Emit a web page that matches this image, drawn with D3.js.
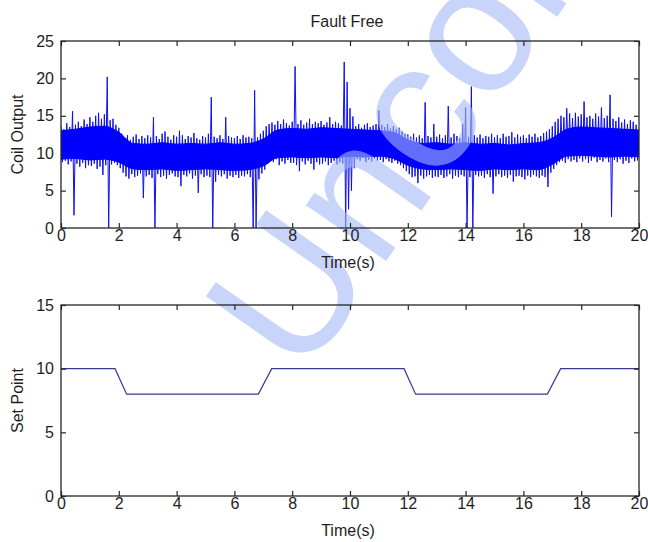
<!DOCTYPE html>
<html>
<head>
<meta charset="utf-8">
<script src="https://cdn.jsdelivr.net/npm/d3@7"></script>
<style>
  html, body { margin: 0; padding: 0; background: #fff; }
  svg { display: block; font-family: "Liberation Sans", Arial, Helvetica, sans-serif; }
</style>
</head>
<body>
<svg id="chart" width="648" height="542"></svg>
<script>
// Coil output, summarised per 0.1 s bin: highest and lowest sample in each bin
const coilBinStep = 0.1;
const coilHigh = [
  13.6, 13.2, 14.0, 13.5, 15.6, 13.8, 14.2, 13.6, 14.5, 13.9,
  14.8, 14.2, 15.0, 15.4, 14.6, 15.2, 20.2, 14.4, 14.6, 13.8,
  13.4, 12.6, 12.0, 12.4, 11.8, 12.2, 12.5, 11.9, 12.3, 12.0,
  12.4, 12.1, 14.8, 12.3, 11.9, 12.6, 12.9, 12.2, 11.8, 12.4,
  12.2, 13.0, 12.4, 11.9, 12.3, 12.1, 12.7, 12.0, 11.8, 12.3,
  12.1, 12.6, 17.5, 12.2, 12.0, 12.4, 11.9, 14.8, 12.3, 12.1,
  12.0, 12.3, 11.9, 12.4, 12.1, 12.2, 12.0, 18.4, 12.1, 12.6,
  13.0, 13.6, 13.9, 14.1, 13.8, 14.3, 13.9, 14.5, 14.0, 13.7,
  14.2, 21.6, 13.9, 14.4, 13.8, 14.1, 14.6, 13.9, 14.2, 14.0,
  14.3, 13.8, 14.1, 14.8, 13.9, 14.2, 14.0, 13.7, 22.2, 19.5,
  16.0, 14.9, 13.6, 13.9, 13.4, 13.8, 14.0, 13.5, 13.7, 13.9,
  15.7, 13.8, 13.5, 13.9, 13.3, 13.6, 13.2, 13.4, 12.9, 12.6,
  12.5, 12.2, 12.6, 12.1, 12.4, 12.0, 16.8, 12.3, 12.1, 13.9,
  12.2, 12.5, 12.0, 12.4, 16.3, 12.1, 12.6, 12.3, 12.0, 13.9,
  16.1, 12.2, 18.9, 12.4, 12.1, 12.5, 12.0, 12.3, 12.2, 12.6,
  12.1, 12.4, 12.0, 12.6, 12.2, 12.3, 12.8, 12.1, 12.5, 12.2,
  12.4, 12.0, 12.5, 12.2, 12.6, 12.1, 12.3, 12.7, 12.9, 13.2,
  13.6, 14.2, 14.6, 15.0, 14.8, 16.0, 15.3, 14.7, 15.4, 14.9,
  15.2, 16.9, 14.8, 15.0, 14.6, 15.3, 14.9, 16.1, 14.7, 15.0,
  17.8, 14.6, 14.3, 14.8, 14.1, 14.5, 13.9, 14.4, 14.2, 13.8
];
const coilLow = [
  8.8, 9.0, 8.5, 8.9, 1.7, 8.6, 8.2, 8.7, 8.0, 8.4,
  8.3, 8.6, 7.9, 8.2, 7.1, 8.4, 0.0, 8.5, 8.7, 8.4,
  8.0, 7.4, 6.9, 6.6, 7.2, 6.8, 7.0, 7.3, 4.0, 6.9,
  7.1, 6.7, 0.0, 7.2, 6.8, 7.0, 6.6, 7.1, 7.3, 6.9,
  6.8, 5.6, 7.1, 6.9, 7.3, 6.6, 7.0, 4.7, 7.2, 6.8,
  7.0, 6.8, 0.0, 6.2, 7.1, 6.9, 7.2, 6.6, 7.0, 6.8,
  7.1, 6.7, 7.0, 6.9, 7.2, 6.8, 0.0, 0.0, 6.5, 7.3,
  7.8, 8.6, 9.0, 8.8, 9.2, 8.4, 8.9, 8.6, 9.1, 8.7,
  8.7, 8.4, 7.6, 8.9, 8.5, 9.0, 8.6, 7.8, 8.8, 8.5,
  8.6, 8.9, 8.4, 8.7, 9.0, 8.5, 8.8, 8.6, 0.0, 2.5,
  5.0, 8.0, 9.2, 9.0, 9.4, 8.8, 9.1, 8.9, 9.3, 9.0,
  9.1, 8.8, 9.2, 8.9, 8.7, 9.0, 8.6, 8.4, 8.0, 7.6,
  7.2, 6.8, 6.9, 6.0, 7.0, 6.6, 6.9, 7.1, 6.7, 6.9,
  6.8, 7.1, 6.7, 6.9, 7.2, 6.6, 7.0, 6.8, 7.1, 6.9,
  0.0, 6.8, 0.0, 7.1, 6.9, 7.0, 6.7, 7.2, 6.8, 4.6,
  6.9, 7.2, 6.8, 7.0, 6.7, 7.1, 6.2, 6.9, 7.0, 6.8,
  6.5, 7.0, 6.8, 7.1, 6.9, 6.7, 7.0, 6.8, 5.5, 7.4,
  7.9, 8.4, 8.8, 9.0, 8.7, 9.2, 8.9, 9.1, 8.8, 9.3,
  8.9, 9.2, 8.7, 9.0, 9.4, 8.8, 9.1, 8.9, 9.3, 8.8,
  1.5, 9.1, 8.8, 9.2, 8.6, 9.0, 8.7, 9.3, 8.9, 9.0
];

// Dense core of the coil signal, every 0.5 s (where most samples lie)
const coreStep = 0.5;
const coreHigh = [
  13.0, 13.2, 13.5, 13.6, 12.8, 11.3, 11.2, 11.4, 11.2, 11.3,
  11.2, 11.4, 11.2, 11.3, 11.9, 13.1, 13.3, 13.2, 13.4, 13.3,
  13.2, 13.1, 13.0, 12.8, 11.8, 11.3, 11.4, 11.2, 11.4, 11.2,
  11.3, 11.1, 11.3, 11.4, 12.0, 13.2, 13.5, 13.4, 13.3, 13.2,
  13.1
];
const coreLow = [
  9.2, 9.3, 9.1, 9.2, 8.8, 7.9, 7.8, 7.9, 7.7, 7.8,
  7.9, 7.8, 7.7, 7.8, 8.3, 9.4, 9.5, 9.4, 9.5, 9.4,
  9.6, 9.5, 9.6, 9.3, 8.4, 7.9, 7.8, 7.9, 7.8, 7.7,
  7.9, 7.8, 7.9, 7.8, 8.5, 9.6, 9.7, 9.6, 9.5, 9.6,
  9.5
];

// Set point profile (corner points of the ramps)
const setTimes  = [0, 1.87, 2.27, 6.83, 7.29, 11.87, 12.27, 16.83, 17.29, 20];
const setValues = [10, 10, 8, 8, 10, 10, 8, 8, 10, 10];

const timeTicks = [0, 2, 4, 6, 8, 10, 12, 14, 16, 18, 20];
const coilTicks = [0, 5, 10, 15, 20, 25];
const setTicks  = [0, 5, 10, 15];

const titleText = "Fault Free";
const timeLabel = "Time(s)";
const coilLabel = "Coil Output";
const setLabel  = "Set Point";
const stampText = "Uncorrected Proof";

const svg = d3.select("#chart");
const plotLeft = 61, plotRight = 639;
const top1 = 41, bottom1 = 228;
const top2 = 305, bottom2 = 496;
const axisColor = "#262626";
const textColor = "#1e1e1e";

const x = d3.scaleLinear().domain([0, 20]).range([plotLeft, plotRight]);
const yCoil = d3.scaleLinear().domain([0, 25]).range([bottom1, top1]);
const ySet = d3.scaleLinear().domain([0, 15]).range([bottom2, top2]);

// zig-zag through each bin: its high sample, then its low sample
const coilPoints = [];
coilHigh.forEach((h, i) => {
  coilPoints.push([i * coilBinStep, h]);
  coilPoints.push([i * coilBinStep + coilBinStep / 2, coilLow[i]]);
});
const corePoints = coreHigh.map((h, i) => ({ t: i * coreStep, hi: h, lo: coreLow[i] }));

const dataLayer = svg.append("g");
const stampLayer = svg.append("g");
const axisLayer = svg.append("g");

svg.append("clipPath").attr("id", "clip1")
  .append("rect").attr("x", plotLeft).attr("y", top1)
  .attr("width", plotRight - plotLeft).attr("height", bottom1 - top1);

dataLayer.append("path")
  .datum(coilPoints)
  .attr("clip-path", "url(#clip1)")
  .attr("fill", "none")
  .attr("stroke", "#1010ee")
  .attr("stroke-width", 1)
  .attr("d", d3.line().x(d => x(d[0])).y(d => yCoil(d[1])));

dataLayer.append("path")
  .datum(corePoints)
  .attr("clip-path", "url(#clip1)")
  .attr("fill", "#0000ff")
  .attr("stroke", "#0000ff")
  .attr("stroke-width", 1)
  .attr("d", d3.area().x(d => x(d.t)).y0(d => yCoil(d.lo)).y1(d => yCoil(d.hi)).curve(d3.curveMonotoneX));

dataLayer.append("path")
  .datum(setTimes.map((t, i) => [t, setValues[i]]))
  .attr("fill", "none")
  .attr("stroke", "#3a3a8c")
  .attr("stroke-width", 1.2)
  .attr("d", d3.line().x(d => x(d[0])).y(d => ySet(d[1])));

// faint diagonal stamp across the figure
stampLayer.append("text")
  .attr("transform", "translate(302,381) rotate(-55)")
  .attr("font-size", 185)
  .attr("fill", "rgb(163,183,247)")
  .attr("fill-opacity", 0.6)
  .text(stampText);

function drawAxes(g, y, ticks, top, bottom, yLabel) {
  g.append("rect")
    .attr("x", plotLeft).attr("y", top)
    .attr("width", plotRight - plotLeft).attr("height", bottom - top)
    .attr("fill", "none").attr("stroke", axisColor).attr("stroke-width", 1.3);

  const styleAxis = sel => {
    sel.select(".domain").remove();
    sel.selectAll(".tick line").attr("stroke", axisColor).attr("stroke-width", 1.2);
    sel.selectAll(".tick text").attr("fill", textColor).attr("font-size", 16)
      .attr("font-family", "'Liberation Sans', Arial, sans-serif");
  };

  g.append("g").attr("transform", `translate(0,${bottom})`)
    .call(d3.axisBottom(x).tickValues(timeTicks).tickSize(-5).tickSizeOuter(0).tickPadding(2))
    .call(styleAxis);
  g.append("g").attr("transform", `translate(0,${top})`)
    .call(d3.axisTop(x).tickValues(timeTicks).tickSize(-5).tickSizeOuter(0).tickFormat(""))
    .call(styleAxis);
  g.append("g").attr("transform", `translate(${plotLeft},0)`)
    .call(d3.axisLeft(y).tickValues(ticks).tickSize(-5).tickSizeOuter(0).tickPadding(7))
    .call(styleAxis);
  g.append("g").attr("transform", `translate(${plotRight},0)`)
    .call(d3.axisRight(y).tickValues(ticks).tickSize(-5).tickSizeOuter(0).tickFormat(""))
    .call(styleAxis);

  g.append("text")
    .attr("x", 348).attr("y", bottom + 40)
    .attr("text-anchor", "middle").attr("font-size", 16).attr("fill", textColor)
    .text(timeLabel);
  g.append("text")
    .attr("transform", `translate(23,${(top + bottom) / 2}) rotate(-90)`)
    .attr("text-anchor", "middle").attr("font-size", 16).attr("fill", textColor)
    .text(yLabel);
}

drawAxes(axisLayer.append("g"), yCoil, coilTicks, top1, bottom1, coilLabel);
drawAxes(axisLayer.append("g"), ySet, setTicks, top2, bottom2, setLabel);

axisLayer.append("text")
  .attr("x", 347).attr("y", 26.5)
  .attr("text-anchor", "middle").attr("font-size", 16).attr("fill", textColor)
  .text(titleText);
</script>
</body>
</html>
